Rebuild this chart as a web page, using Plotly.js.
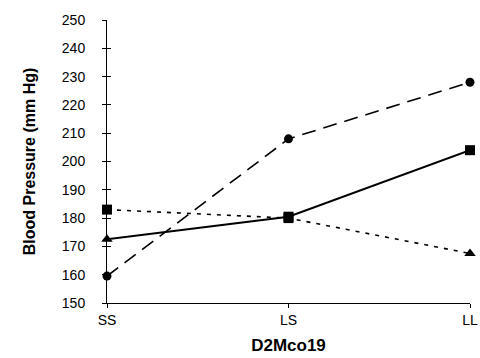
<!DOCTYPE html>
<html>
<head>
<meta charset="utf-8">
<script src="https://cdn.plot.ly/plotly-3.0.1.min.js"></script>
<style>html,body{margin:0;padding:0;background:#fff;}#chart{width:480px;height:358px;}</style>
</head>
<body>
<div id="chart"></div>
<script>
// Data
const categories = ["SS", "LS", "LL"];
const dashedValues = [159.5, 208, 228];
const solidValues = [172.5, 180.5, 204];
const dottedValues = [183, 180, 167.5];
const solidMarkers = ["triangle-up", "square", "square"];
const dottedMarkers = ["square", "square", "triangle-up"];
const yTicks = [150, 160, 170, 180, 190, 200, 210, 220, 230, 240, 250];

const font = "Arial, 'Liberation Sans', sans-serif";

const traces = [
  {
    x: categories, y: dashedValues, type: "scatter", mode: "lines+markers",
    line: {color: "#000", width: 1.6, dash: "14px,8px"},
    marker: {symbol: "circle", size: 9, color: "#000"},
    cliponaxis: false
  },
  {
    x: categories, y: dottedValues, type: "scatter", mode: "lines+markers",
    line: {color: "#000", width: 1.6, dash: "4px,6px"},
    marker: {symbol: dottedMarkers, size: 10, color: "#000"},
    cliponaxis: false
  },
  {
    x: categories, y: solidValues, type: "scatter", mode: "lines+markers",
    line: {color: "#000", width: 2},
    marker: {symbol: solidMarkers, size: 10, color: "#000"},
    cliponaxis: false
  },
  {
    // invisible helper so the overlay axis (inner half of the crossing ticks) is drawn
    x: categories, y: solidValues, type: "scatter", mode: "markers",
    yaxis: "y2", marker: {opacity: 0}, hoverinfo: "skip", showlegend: false
  }
];

const layout = {
  width: 480, height: 358,
  margin: {l: 107, r: 10, t: 20, b: 55},
  paper_bgcolor: "#fff", plot_bgcolor: "#fff",
  showlegend: false,
  font: {family: font, color: "#000"},
  xaxis: {
    type: "category", range: [0, 2],
    showgrid: false, zeroline: false,
    showline: true, linecolor: "#000", linewidth: 1,
    ticks: "outside", ticklen: 4, tickcolor: "#000",
    tickfont: {size: 14, family: font, color: "#000"},
    title: {text: "<b>D2Mco19</b>", font: {size: 17, family: font, color: "#000"}, standoff: 12}
  },
  yaxis: {
    range: [150, 250], tickvals: yTicks, ticktext: yTicks.map(String),
    showgrid: false, zeroline: false,
    showline: true, linecolor: "#000", linewidth: 1,
    ticks: "outside", ticklen: 4, tickcolor: "#000",
    ticklabelstandoff: 14,
    tickfont: {size: 14, family: font, color: "#000"},
    title: {text: "<b>Blood Pressure (mm Hg)</b>", font: {size: 16, family: font, color: "#000"}, standoff: 22}
  },
  yaxis2: {
    range: [150, 250], tickvals: yTicks, overlaying: "y", side: "left", anchor: "x",
    showgrid: false, zeroline: false, showline: false,
    ticks: "inside", ticklen: 4, tickcolor: "#000", showticklabels: false
  }
};

Plotly.newPlot("chart", traces, layout, {staticPlot: true, displayModeBar: false});
</script>
</body>
</html>
